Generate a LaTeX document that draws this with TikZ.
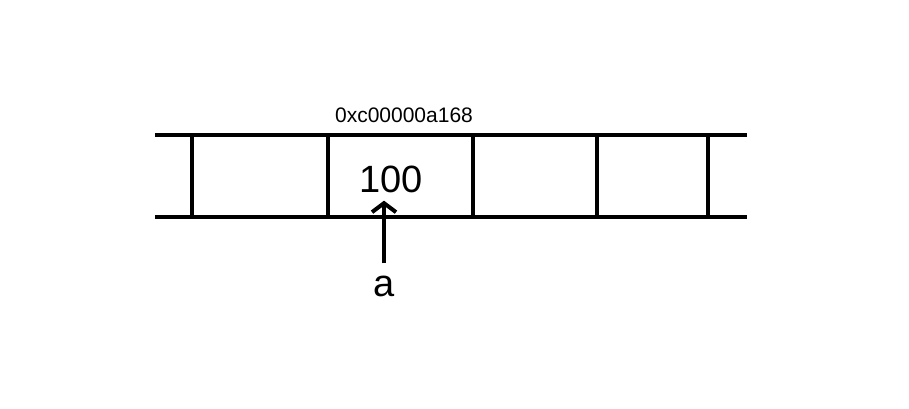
\documentclass[tikz,border=0pt]{standalone}
\usepackage{fontspec}
\setmainfont{Liberation Sans}
\usetikzlibrary{arrows.meta}

\begin{document}
\begin{tikzpicture}[x=1pt,y=-1pt,
    wall/.style = {line width=4pt},
    addr/.style = {inner sep=0pt, font=\fontsize{21}{21}\selectfont},
    big/.style = {inner sep=0pt, font=\fontsize{38}{38}\selectfont}]
\useasboundingbox (0,0) rectangle (909,408);
\draw[wall] (155,135) -- (747,135);
\draw[wall] (155,217) -- (747,217);
\foreach \x in {192,328,473,597,708}
    \draw[wall] (\x,135) -- (\x,217);
\node[addr] (addr) at (404,115) {0xc00000a168};
\node[big] (val) at (391,179) {100};
\node[big] (var) at (384,286) {a};
\draw[wall, shorten <=12pt, shorten >=8pt, -{Straight Barb[length=9pt,width=24pt]}] (var.north) -- (var.north |- val.south);
\end{tikzpicture}
\end{document}
